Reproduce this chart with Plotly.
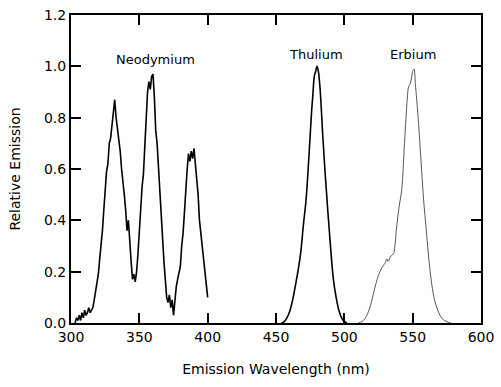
import plotly.graph_objects as go

# Neodymium emission (nm, relative)
nd_x = list(range(303, 401))
nd_y = [0.00, 0.02, 0.01, 0.03, 0.01, 0.04, 0.02, 0.05, 0.03, 0.04,
        0.06, 0.04, 0.05, 0.06, 0.09, 0.12, 0.15, 0.19, 0.25, 0.30,
        0.36, 0.44, 0.52, 0.59, 0.62, 0.70, 0.72, 0.78, 0.84, 0.87,
        0.80, 0.76, 0.70, 0.67, 0.60, 0.56, 0.50, 0.44, 0.36, 0.40,
        0.30, 0.24, 0.17, 0.19, 0.16, 0.20, 0.27, 0.36, 0.45, 0.53,
        0.58, 0.68, 0.82, 0.90, 0.94, 0.91, 0.96, 0.97, 0.88, 0.75,
        0.70, 0.60, 0.49, 0.40, 0.31, 0.24, 0.17, 0.10, 0.08, 0.11,
        0.06, 0.09, 0.03, 0.10, 0.14, 0.17, 0.20, 0.22, 0.30, 0.35,
        0.43, 0.53, 0.60, 0.66, 0.63, 0.67, 0.64, 0.68, 0.62, 0.58,
        0.50, 0.40, 0.35, 0.30, 0.23, 0.18, 0.13, 0.10]

# Thulium emission
tm_x = [454, 456, 458, 460, 462, 464, 466, 468, 470, 472, 474, 476, 477, 478,
        479, 480, 481, 482, 483, 484, 486, 488, 490, 492, 494, 496, 498, 500, 502]
tm_y = [0.0, 0.005, 0.02, 0.045, 0.085, 0.14, 0.20, 0.27, 0.38, 0.48, 0.64, 0.82,
        0.89, 0.96, 0.98, 1.0, 0.98, 0.93, 0.85, 0.75, 0.58, 0.43, 0.29, 0.17,
        0.10, 0.05, 0.02, 0.005, 0.0]

# Erbium emission
er_x = [510, 512, 514, 516, 518, 520, 522, 524, 526, 528, 530, 531, 532, 534,
        536, 537, 538, 540, 542, 544, 546, 547, 548, 549, 550, 551, 552, 554,
        556, 558, 560, 562, 564, 566, 568, 570, 572, 575, 578]
er_y = [0.0, 0.003, 0.01, 0.025, 0.05, 0.085, 0.13, 0.17, 0.20, 0.22, 0.235,
        0.25, 0.24, 0.26, 0.27, 0.30, 0.36, 0.45, 0.52, 0.70, 0.87, 0.92, 0.93,
        0.95, 0.98, 0.99, 0.93, 0.80, 0.64, 0.48, 0.36, 0.24, 0.15, 0.09,
        0.055, 0.03, 0.015, 0.005, 0.0]

labels = ["Neodymium", "Thulium", "Erbium"]
label_x = [361.5, 479.3, 550.3]
label_y = [1.025, 1.045, 1.048]

FONT = "DejaVu Sans"

fig = go.Figure()
fig.add_trace(go.Scatter(x=nd_x, y=nd_y, mode="lines",
                         line=dict(color="black", width=1.6), showlegend=False))
fig.add_trace(go.Scatter(x=tm_x, y=tm_y, mode="lines", line_shape="spline",
                         line=dict(color="black", width=1.6), showlegend=False))
fig.add_trace(go.Scatter(x=er_x, y=er_y, mode="lines", line_shape="spline",
                         line=dict(color="#444444", width=0.9), showlegend=False))

for t, x, y in zip(labels, label_x, label_y):
    fig.add_annotation(x=x, y=y, text=t, showarrow=False,
                       font=dict(family=FONT, size=13, color="black"))

axis_common = dict(showgrid=False, zeroline=False, showline=True,
                   linecolor="black", linewidth=2, mirror="ticks",
                   ticks="inside", ticklen=10, tickwidth=1.5, tickcolor="black",
                   tickfont=dict(family=FONT, size=14, color="black"))

fig.update_xaxes(range=[300, 600], tickvals=[300, 350, 400, 450, 500, 550, 600],
                 title=dict(text="Emission Wavelength (nm)",
                            font=dict(family=FONT, size=14, color="black"),
                            standoff=20),
                 **axis_common)
fig.update_yaxes(range=[0, 1.2], tickvals=[0, 0.2, 0.4, 0.6, 0.8, 1.0, 1.2],
                 tickformat=".1f",
                 title=dict(text="Relative Emission",
                            font=dict(family=FONT, size=14, color="black"),
                            standoff=20),
                 **axis_common)

fig.update_layout(width=501, height=387, autosize=False,
                  margin=dict(l=71, r=20, t=15, b=64, autoexpand=False),
                  paper_bgcolor="white", plot_bgcolor="white",
                  font=dict(family=FONT, color="black"))

fig.write_html("out.html", config={"displayModeBar": False},
               post_script="document.body.style.margin='0';document.body.style.overflow='hidden';")
